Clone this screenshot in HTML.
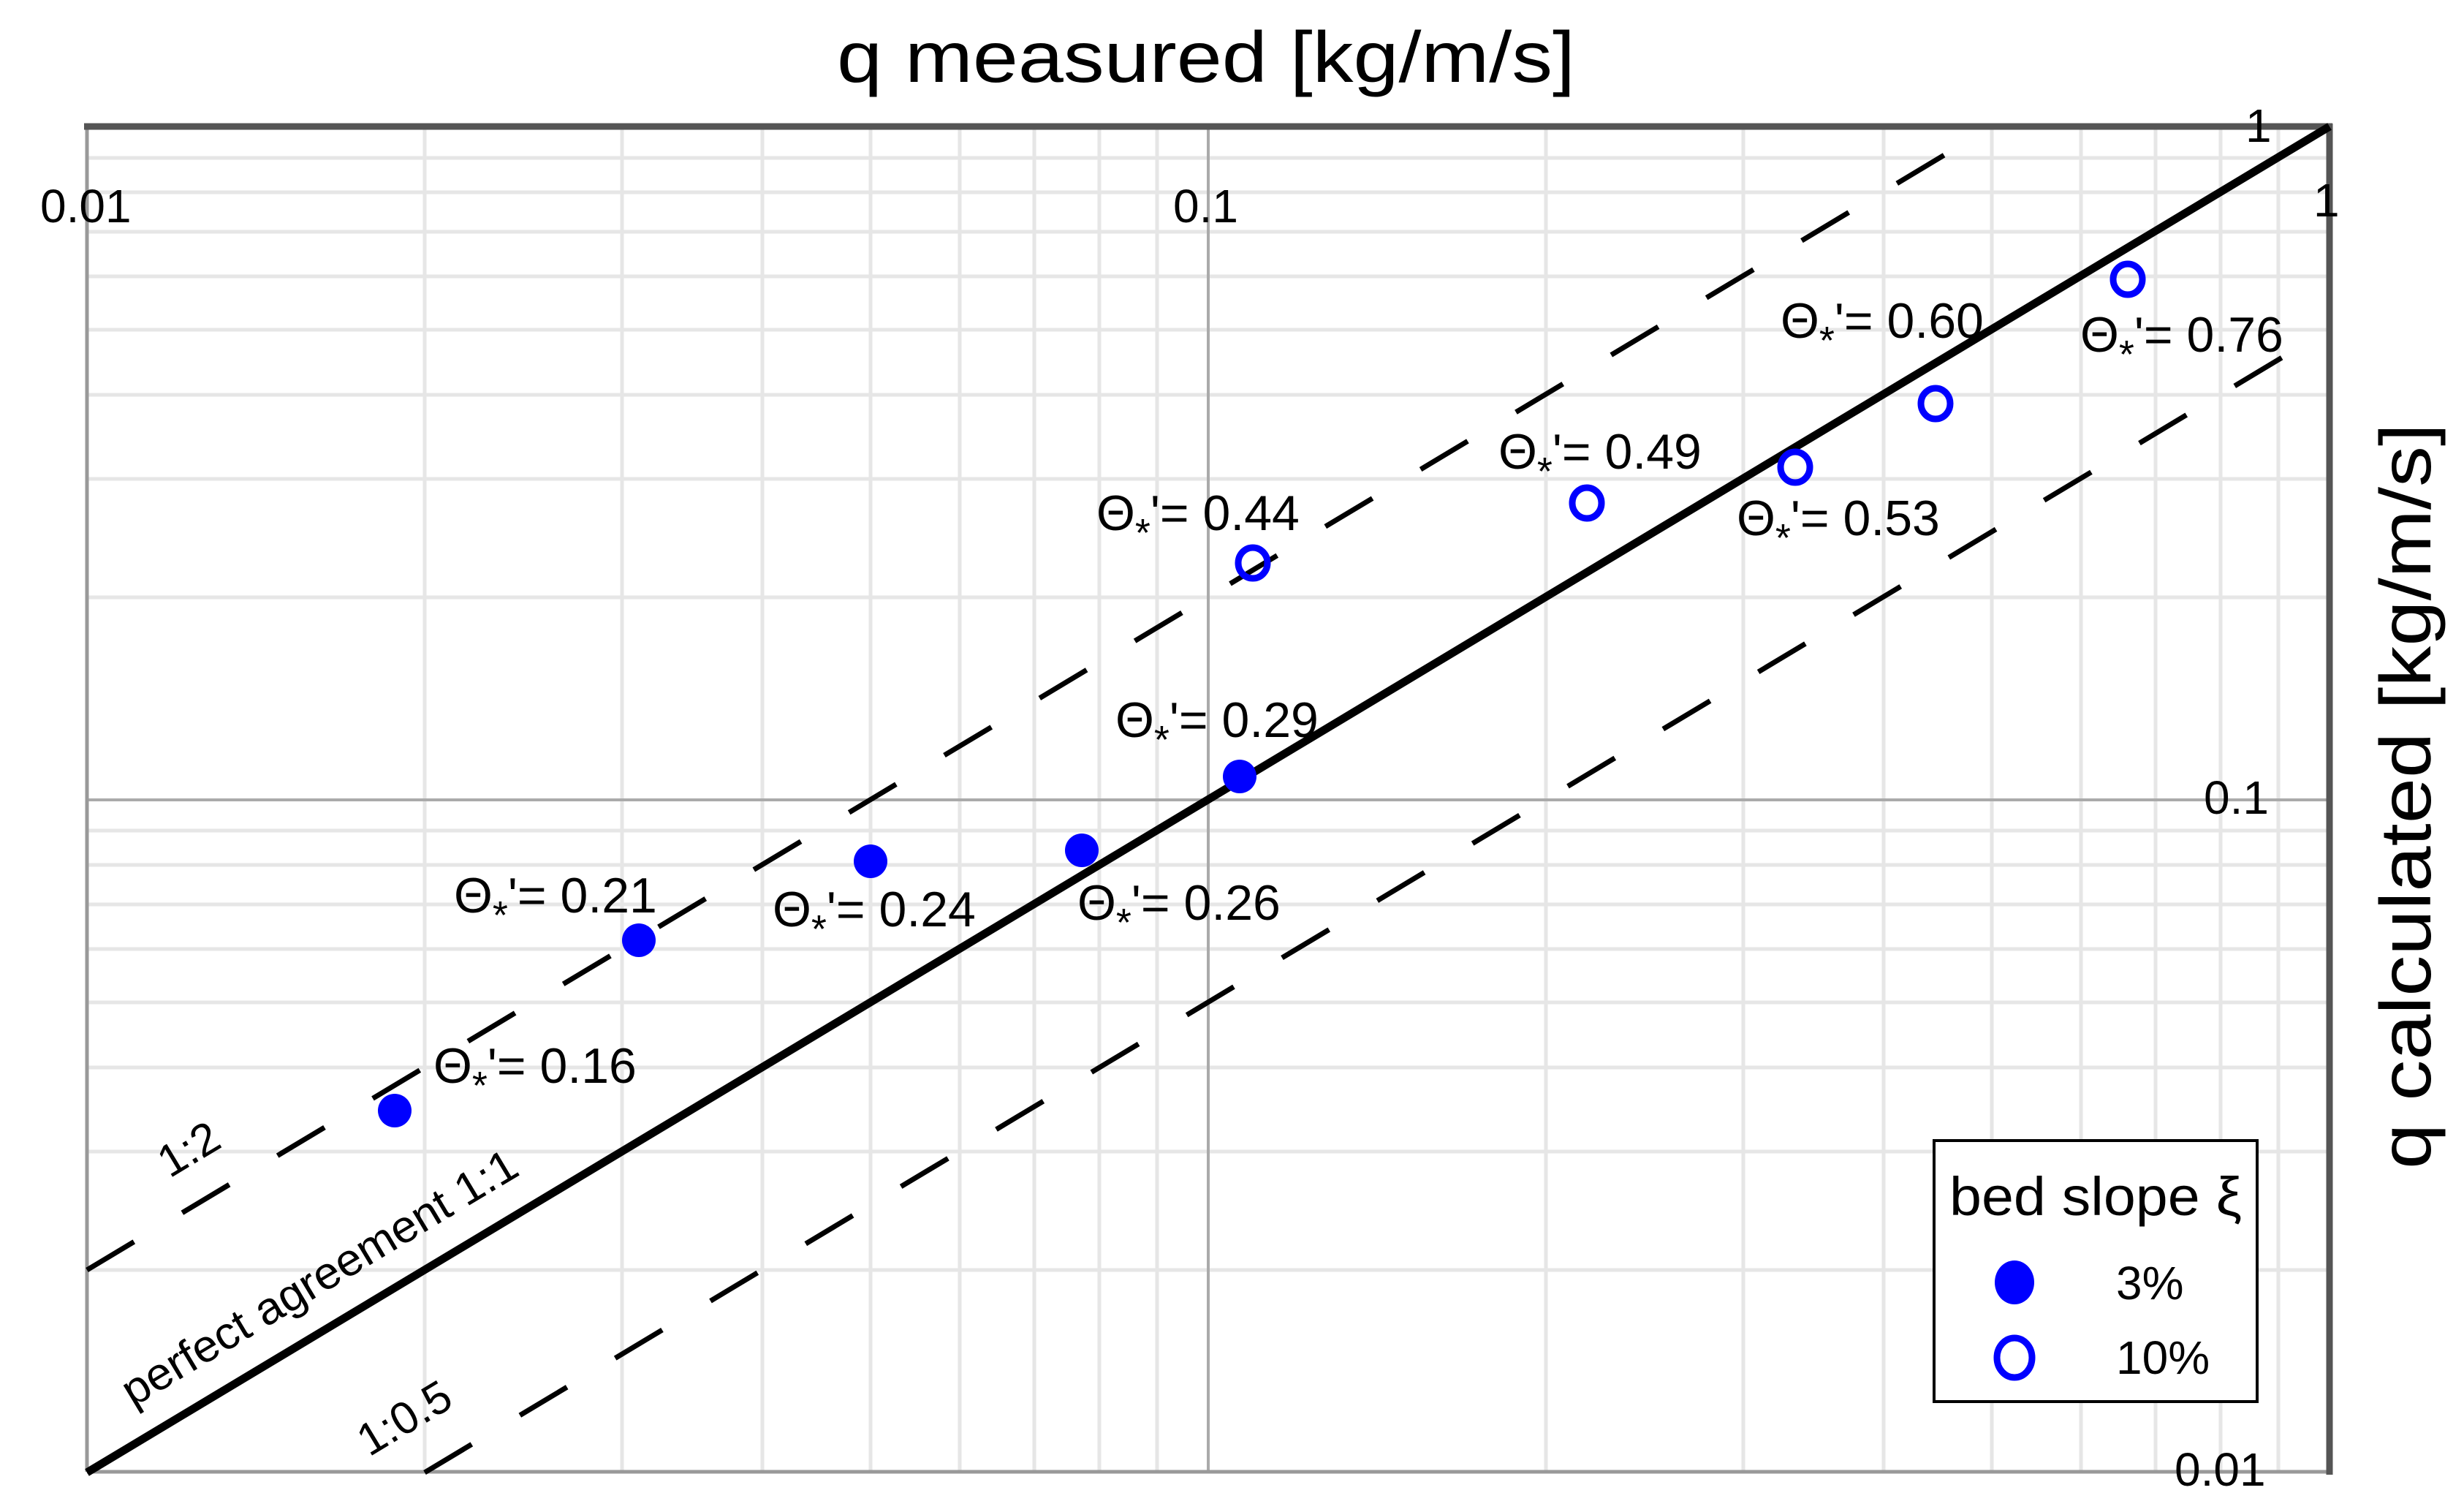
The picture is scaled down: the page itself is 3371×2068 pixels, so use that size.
<!DOCTYPE html>
<html><head><meta charset="utf-8"><style>html,body{margin:0;padding:0;background:#fff}svg{display:block}</style></head>
<body>
<svg width="3371" height="2068" viewBox="0 0 3371 2068" xmlns="http://www.w3.org/2000/svg" font-family="Liberation Sans, Arial, sans-serif">
<rect width="3371" height="2068" fill="#fff"/>
<g stroke="#e6e6e6" stroke-width="5">
<line x1="581" y1="173" x2="581" y2="2013"/><line x1="851" y1="173" x2="851" y2="2013"/><line x1="1043" y1="173" x2="1043" y2="2013"/><line x1="1191" y1="173" x2="1191" y2="2013"/><line x1="1313" y1="173" x2="1313" y2="2013"/><line x1="1415" y1="173" x2="1415" y2="2013"/><line x1="1504" y1="173" x2="1504" y2="2013"/><line x1="1583" y1="173" x2="1583" y2="2013"/>
<line x1="2115" y1="173" x2="2115" y2="2013"/><line x1="2385" y1="173" x2="2385" y2="2013"/><line x1="2577" y1="173" x2="2577" y2="2013"/><line x1="2725" y1="173" x2="2725" y2="2013"/><line x1="2847" y1="173" x2="2847" y2="2013"/><line x1="2949" y1="173" x2="2949" y2="2013"/><line x1="3038" y1="173" x2="3038" y2="2013"/><line x1="3117" y1="173" x2="3117" y2="2013"/>
<line x1="119" y1="1737" x2="3187" y2="1737"/><line x1="119" y1="1575" x2="3187" y2="1575"/><line x1="119" y1="1460" x2="3187" y2="1460"/><line x1="119" y1="1371" x2="3187" y2="1371"/><line x1="119" y1="1298" x2="3187" y2="1298"/><line x1="119" y1="1237" x2="3187" y2="1237"/><line x1="119" y1="1183" x2="3187" y2="1183"/><line x1="119" y1="1136" x2="3187" y2="1136"/>
<line x1="119" y1="817" x2="3187" y2="817"/><line x1="119" y1="655" x2="3187" y2="655"/><line x1="119" y1="540" x2="3187" y2="540"/><line x1="119" y1="451" x2="3187" y2="451"/><line x1="119" y1="378" x2="3187" y2="378"/><line x1="119" y1="317" x2="3187" y2="317"/><line x1="119" y1="263" x2="3187" y2="263"/><line x1="119" y1="216" x2="3187" y2="216"/>
</g>
<line x1="1653" y1="173" x2="1653" y2="2013" stroke="#aaa" stroke-width="4"/>
<line x1="119" y1="1094" x2="3187" y2="1094" stroke="#aaa" stroke-width="4"/>
<!-- frame -->
<line x1="119" y1="2013" x2="3187" y2="2013" stroke="#999" stroke-width="5"/>
<line x1="119" y1="173" x2="119" y2="2013" stroke="#999" stroke-width="5"/>
<line x1="115" y1="173" x2="3191" y2="173" stroke="#555" stroke-width="9"/>
<line x1="3187" y1="169" x2="3187" y2="2017" stroke="#555" stroke-width="9"/>
<!-- lines -->
<line x1="119" y1="2014" x2="3187" y2="173" stroke="#000" stroke-width="11"/>
<line x1="119" y1="1737" x2="2725" y2="173" stroke="#000" stroke-width="7" stroke-dasharray="75 77"/>
<line x1="581" y1="2014" x2="3187" y2="450" stroke="#000" stroke-width="7" stroke-dasharray="75 77"/>
<!-- points -->
<g fill="#0000ff">
<circle cx="540" cy="1519" r="23"/><circle cx="874" cy="1286" r="23"/><circle cx="1191" cy="1178" r="23"/><circle cx="1480" cy="1163" r="23"/><circle cx="1696" cy="1062" r="23"/>
</g>
<g fill="none" stroke="#0000ff" stroke-width="9">
<ellipse cx="1714" cy="770" rx="20" ry="21"/><ellipse cx="2171" cy="688" rx="20" ry="21"/><ellipse cx="2456" cy="639" rx="20" ry="21"/><ellipse cx="2648" cy="552" rx="20" ry="21"/><ellipse cx="2911" cy="382" rx="20" ry="21"/>
</g>
<!-- theta labels -->
<g font-size="68" fill="#000">
<text x="593" y="1481">Θ<tspan dy="22" font-size="54">*</tspan><tspan dy="-22">'= 0.16</tspan></text>
<text x="621" y="1248">Θ<tspan dy="22" font-size="54">*</tspan><tspan dy="-22">'= 0.21</tspan></text>
<text x="1057" y="1267">Θ<tspan dy="22" font-size="54">*</tspan><tspan dy="-22">'= 0.24</tspan></text>
<text x="1474" y="1258">Θ<tspan dy="22" font-size="54">*</tspan><tspan dy="-22">'= 0.26</tspan></text>
<text x="1526" y="1008">Θ<tspan dy="22" font-size="54">*</tspan><tspan dy="-22">'= 0.29</tspan></text>
<text x="1500" y="725">Θ<tspan dy="22" font-size="54">*</tspan><tspan dy="-22">'= 0.44</tspan></text>
<text x="2050" y="641">Θ<tspan dy="22" font-size="54">*</tspan><tspan dy="-22">'= 0.49</tspan></text>
<text x="2376" y="732">Θ<tspan dy="22" font-size="54">*</tspan><tspan dy="-22">'= 0.53</tspan></text>
<text x="2436" y="462">Θ<tspan dy="22" font-size="54">*</tspan><tspan dy="-22">'= 0.60</tspan></text>
<text x="2846" y="481">Θ<tspan dy="22" font-size="54">*</tspan><tspan dy="-22">'= 0.76</tspan></text>
</g>
<!-- tick labels -->
<g font-size="64" fill="#000">
<text x="55" y="304">0.01</text>
<text x="1605" y="304">0.1</text>
<text x="3165" y="296">1</text>
<text x="3072" y="194">1</text>
<text x="3015" y="1113">0.1</text>
<text x="2975" y="2032">0.01</text>
</g>
<text x="1650" y="112" font-size="98" text-anchor="middle" textLength="1010" lengthAdjust="spacingAndGlyphs">q  measured [kg/m/s]</text>
<text transform="translate(3325,1089) rotate(-90)" font-size="98" text-anchor="middle" textLength="1020" lengthAdjust="spacingAndGlyphs">q  calculated [kg/m/s]</text>
<g font-size="62" fill="#000">
<text transform="translate(232,1612) rotate(-31)">1:2</text>
<text transform="translate(182,1925) rotate(-31)" textLength="620" lengthAdjust="spacingAndGlyphs">perfect agreement 1:1</text>
<text transform="translate(505,1993) rotate(-31)">1:0.5</text>
</g>
<!-- legend -->
<rect x="2646" y="1560" width="442" height="357" fill="#fff" stroke="#000" stroke-width="4"/>
<text x="2667" y="1662" font-size="74" textLength="400" lengthAdjust="spacingAndGlyphs">bed slope ξ</text>
<ellipse cx="2756" cy="1754" rx="27" ry="30" fill="#0000ff"/>
<text x="2895" y="1777" font-size="64">3%</text>
<ellipse cx="2756" cy="1857" rx="24" ry="27" fill="none" stroke="#0000ff" stroke-width="9"/>
<text x="2895" y="1879" font-size="64">10%</text>
</svg>
</body></html>
